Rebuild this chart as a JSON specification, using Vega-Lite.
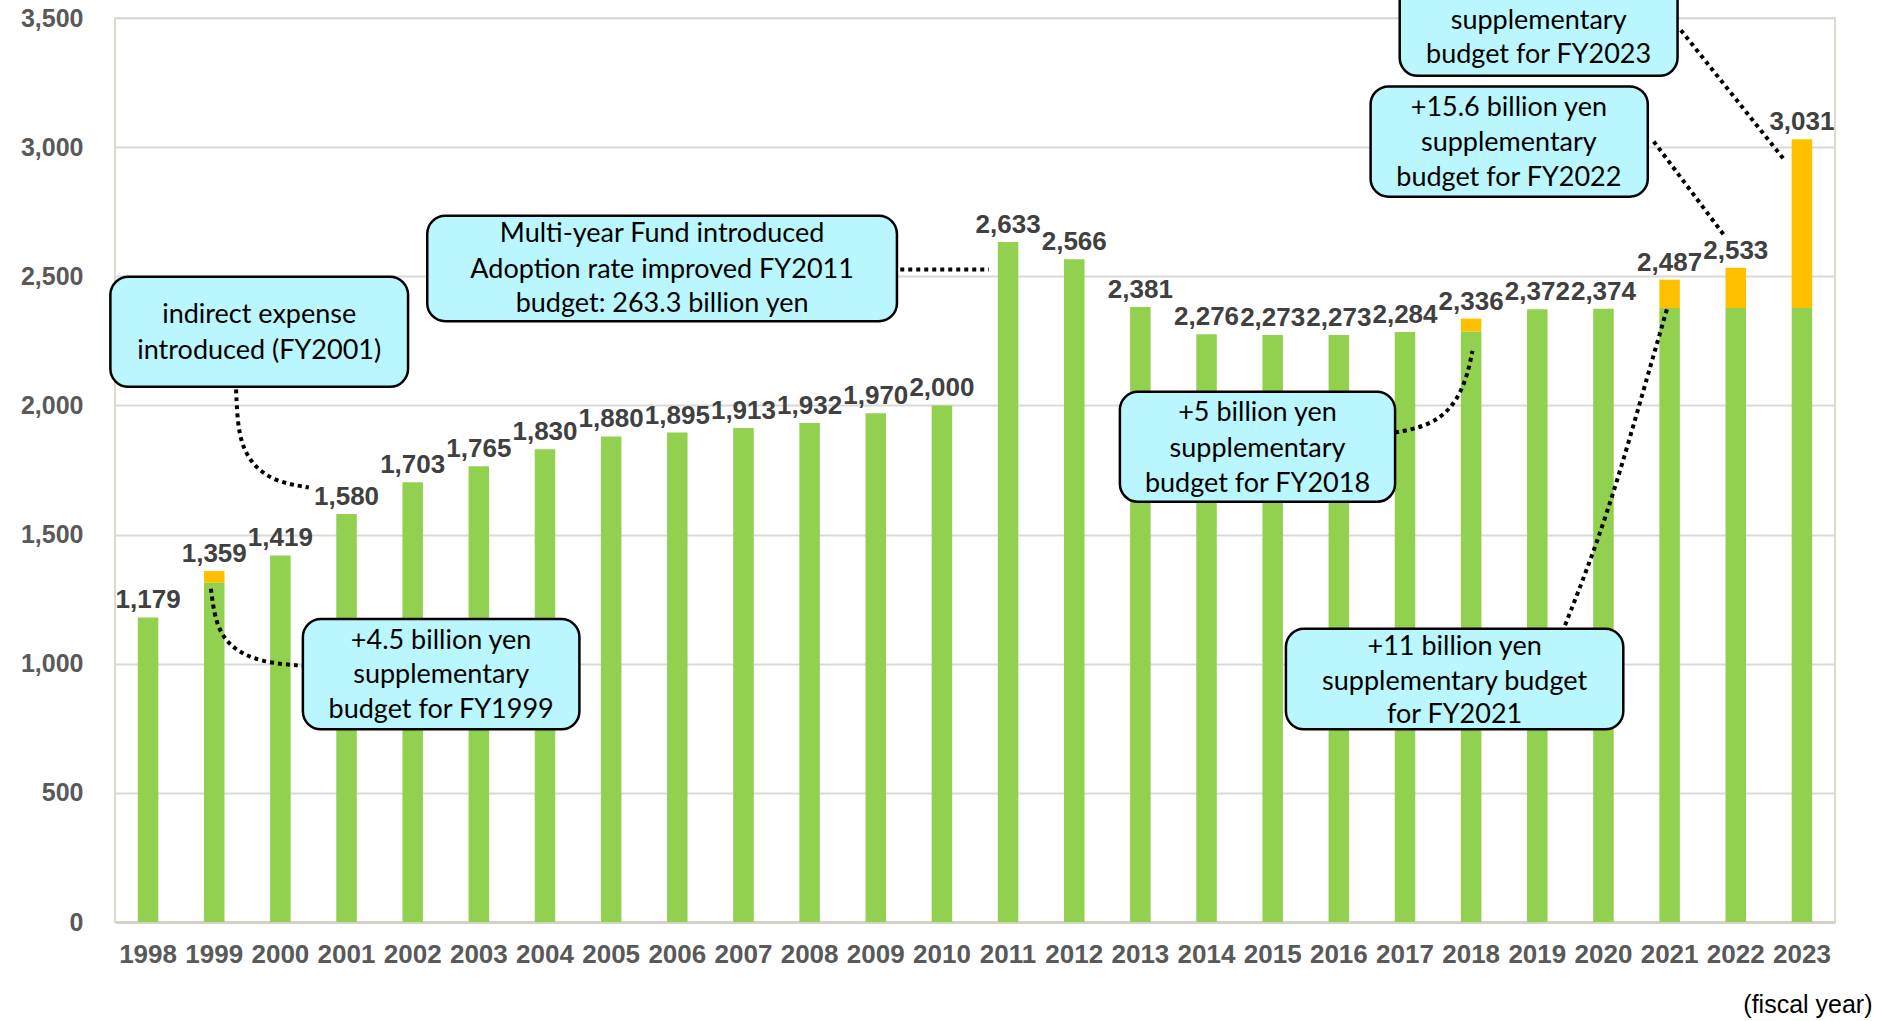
{
  "$schema": "https://vega.github.io/schema/vega-lite/v6.json",
  "autosize": {"type": "none"},
  "padding": {"left": 115, "top": 18, "right": 42, "bottom": 99},
  "width": 1720,
  "height": 904,
  "background": "white",
  "config": {
    "view": {"stroke": "#DCDAC8", "strokeWidth": 2},
    "axisY": {
      "labelFont": "Liberation Sans", "labelFontWeight": "bold", "labelFontSize": 25,
      "labelColor": "#595959", "labelPadding": 32, "ticks": false, "domain": false,
      "gridColor": "#D9D9D9", "gridWidth": 2
    },
    "axisX": {
      "labelFont": "Liberation Sans", "labelFontWeight": "bold", "labelFontSize": 26,
      "labelColor": "#595959", "labelPadding": 19, "ticks": false, "domainColor": "#D4D2C4", "domainWidth": 3,
      "grid": false, "labelAngle": 0
    }
  },
  "datasets": {
    "budget": [
      {"year": "1998", "base": 1179, "total": 1179},
      {"year": "1999", "base": 1314, "total": 1359},
      {"year": "2000", "base": 1419, "total": 1419},
      {"year": "2001", "base": 1580, "total": 1580},
      {"year": "2002", "base": 1703, "total": 1703},
      {"year": "2003", "base": 1765, "total": 1765},
      {"year": "2004", "base": 1830, "total": 1830},
      {"year": "2005", "base": 1880, "total": 1880},
      {"year": "2006", "base": 1895, "total": 1895},
      {"year": "2007", "base": 1913, "total": 1913},
      {"year": "2008", "base": 1932, "total": 1932},
      {"year": "2009", "base": 1970, "total": 1970},
      {"year": "2010", "base": 2000, "total": 2000},
      {"year": "2011", "base": 2633, "total": 2633},
      {"year": "2012", "base": 2566, "total": 2566},
      {"year": "2013", "base": 2381, "total": 2381},
      {"year": "2014", "base": 2276, "total": 2276},
      {"year": "2015", "base": 2273, "total": 2273},
      {"year": "2016", "base": 2273, "total": 2273},
      {"year": "2017", "base": 2284, "total": 2284},
      {"year": "2018", "base": 2286, "total": 2336},
      {"year": "2019", "base": 2372, "total": 2372},
      {"year": "2020", "base": 2374, "total": 2374},
      {"year": "2021", "base": 2377, "total": 2487},
      {"year": "2022", "base": 2377, "total": 2533},
      {"year": "2023", "base": 2377, "total": 3031}
    ],
    "boxes": [
      {"id": 1, "x1": -0.07, "x2": 4.43, "y1": 2072, "y2": 2498},
      {"id": 2, "x1": 4.72, "x2": 11.82, "y1": 2326, "y2": 2734},
      {"id": 3, "x1": 2.84, "x2": 7.02, "y1": 746, "y2": 1173},
      {"id": 4, "x1": 15.19, "x2": 19.35, "y1": 1627, "y2": 2053},
      {"id": 5, "x1": 17.7, "x2": 22.8, "y1": 746, "y2": 1135},
      {"id": 6, "x1": 18.98, "x2": 23.17, "y1": 2808, "y2": 3235},
      {"id": 7, "x1": 19.42, "x2": 23.62, "y1": 3276, "y2": 3702}
    ],
    "notes": [
      {"ax": 2.18, "ay": 2350, "line": "indirect expense"},
      {"ax": 2.18, "ay": 2211, "line": "introduced (FY2001)"},
      {"ax": 8.27, "ay": 2665, "line": "Multi-year Fund introduced"},
      {"ax": 8.27, "ay": 2526, "line": "Adoption rate improved FY2011"},
      {"ax": 8.27, "ay": 2391, "line": "budget: 263.3 billion yen"},
      {"ax": 4.93, "ay": 1089, "line": "+4.5 billion yen"},
      {"ax": 4.93, "ay": 955, "line": "supplementary"},
      {"ax": 4.93, "ay": 820, "line": "budget for FY1999"},
      {"ax": 17.27, "ay": 1969, "line": "+5 billion yen"},
      {"ax": 17.27, "ay": 1830, "line": "supplementary"},
      {"ax": 17.27, "ay": 1696, "line": "budget for FY2018"},
      {"ax": 20.25, "ay": 1066, "line": "+11 billion yen"},
      {"ax": 20.25, "ay": 931, "line": "supplementary budget"},
      {"ax": 20.25, "ay": 802, "line": "for FY2021"},
      {"ax": 21.07, "ay": 3151, "line": "+15.6 billion yen"},
      {"ax": 21.07, "ay": 3017, "line": "supplementary"},
      {"ax": 21.07, "ay": 2882, "line": "budget for FY2022"},
      {"ax": 21.52, "ay": 3625, "line": "+65.4 billion yen"},
      {"ax": 21.52, "ay": 3490, "line": "supplementary"},
      {"ax": 21.52, "ay": 3355, "line": "budget for FY2023"}
    ],
    "links": [
      {"id": 1, "k": 1, "ax": 1.83, "ay": 2062},
      {"id": 1, "k": 2, "ax": 1.86, "ay": 1880},
      {"id": 1, "k": 3, "ax": 2.05, "ay": 1775},
      {"id": 1, "k": 4, "ax": 2.4, "ay": 1705},
      {"id": 1, "k": 5, "ax": 2.93, "ay": 1682},
      {"id": 2, "k": 1, "ax": 11.87, "ay": 2526},
      {"id": 2, "k": 2, "ax": 13.21, "ay": 2526},
      {"id": 3, "k": 1, "ax": 1.45, "ay": 1290},
      {"id": 3, "k": 2, "ax": 1.52, "ay": 1150},
      {"id": 3, "k": 3, "ax": 1.75, "ay": 1060},
      {"id": 3, "k": 4, "ax": 2.2, "ay": 1005},
      {"id": 3, "k": 5, "ax": 2.84, "ay": 992},
      {"id": 4, "k": 1, "ax": 19.35, "ay": 1895},
      {"id": 4, "k": 2, "ax": 19.85, "ay": 1920},
      {"id": 4, "k": 3, "ax": 20.2, "ay": 1985},
      {"id": 4, "k": 4, "ax": 20.42, "ay": 2090},
      {"id": 4, "k": 5, "ax": 20.52, "ay": 2211},
      {"id": 5, "k": 1, "ax": 21.92, "ay": 1149},
      {"id": 5, "k": 2, "ax": 22.55, "ay": 1560},
      {"id": 5, "k": 3, "ax": 23.15, "ay": 2100},
      {"id": 5, "k": 4, "ax": 23.46, "ay": 2373},
      {"id": 6, "k": 1, "ax": 23.26, "ay": 3022},
      {"id": 6, "k": 2, "ax": 24.32, "ay": 2660},
      {"id": 7, "k": 1, "ax": 23.67, "ay": 3453},
      {"id": 7, "k": 2, "ax": 25.23, "ay": 2952}
    ]
  },
  "resolve": {"scale": {"x": "independent"}},
  "layer": [
    {
      "data": {"name": "budget"},
      "layer": [
        {
          "mark": {"type": "bar", "color": "#92D050"},
          "encoding": {
            "x": {"field": "year", "type": "ordinal", "scale": {"paddingInner": 0.69, "paddingOuter": 0.345},
                  "axis": {"title": "(fiscal year)", "titleFont": "Liberation Sans", "titleFontWeight": "normal",
                           "titleFontSize": 25, "titleColor": "black", "titleAnchor": "end", "titleAlign": "right",
                           "titleBaseline": "alphabetic", "titleX": 1757, "titleY": 90}},
            "y": {"field": "base", "type": "quantitative", "title": null,
                  "scale": {"domain": [0, 3500], "nice": false},
                  "axis": {"values": [0, 500, 1000, 1500, 2000, 2500, 3000, 3500], "format": ",d"}}
          }
        },
        {
          "transform": [{"filter": "datum.total > datum.base"}],
          "mark": {"type": "bar", "color": "#FFC000"},
          "encoding": {
            "x": {"field": "year", "type": "ordinal"},
            "y": {"field": "base", "type": "quantitative", "title": null},
            "y2": {"field": "total"}
          }
        },
        {
          "mark": {"type": "text", "font": "Liberation Sans", "fontWeight": "bold",
                   "fontSize": 26, "color": "#404040", "baseline": "alphabetic", "dy": -9},
          "encoding": {
            "x": {"field": "year", "type": "ordinal"},
            "y": {"field": "total", "type": "quantitative", "title": null},
            "text": {"field": "total", "type": "quantitative", "format": ","}
          }
        }
      ]
    },
    {
      "data": {"name": "links"},
      "mark": {"type": "line", "color": "black", "strokeWidth": 4, "strokeDash": [4, 4], "interpolate": "basis", "clip": false},
      "encoding": {
        "x": {"field": "ax", "type": "quantitative", "scale": {"domain": [0, 26], "nice": false, "zero": false}, "axis": null},
        "y": {"field": "ay", "type": "quantitative", "title": null},
        "detail": {"field": "id"},
        "order": {"field": "k"}
      }
    },
    {
      "data": {"name": "boxes"},
      "mark": {"type": "rect", "fill": "#B9F6FD", "stroke": "black", "strokeWidth": 2.5, "cornerRadius": 18, "clip": false},
      "encoding": {
        "x": {"field": "x1", "type": "quantitative", "scale": {"domain": [0, 26], "nice": false, "zero": false}, "axis": null},
        "x2": {"field": "x2"},
        "y": {"field": "y1", "type": "quantitative", "title": null},
        "y2": {"field": "y2"}
      }
    },
    {
      "data": {"name": "notes"},
      "mark": {"type": "text", "font": "Lato", "fontSize": 27, "color": "black", "align": "center", "baseline": "middle", "clip": false},
      "encoding": {
        "x": {"field": "ax", "type": "quantitative", "scale": {"domain": [0, 26], "nice": false, "zero": false}, "axis": null},
        "y": {"field": "ay", "type": "quantitative", "title": null},
        "text": {"field": "line"}
      }
    }
  ]
}
